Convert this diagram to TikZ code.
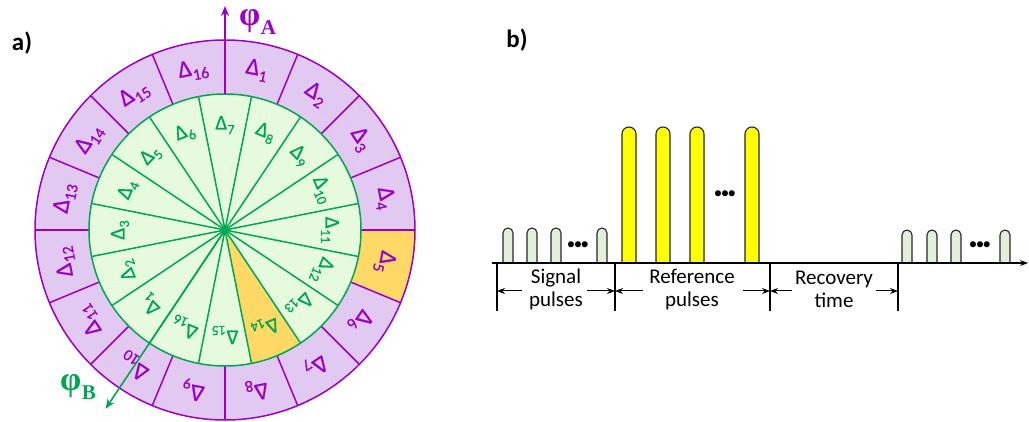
\documentclass[tikz,border=0pt]{standalone}
\usepackage{fontspec}
\setmainfont{Carlito}
\newfontfamily\phifont{Liberation Serif}
\newfontfamily\labfont[FakeBold=0.8]{Carlito}
\usetikzlibrary{arrows.meta}

\definecolor{ringpurple}{HTML}{9B00C8}
\definecolor{ringfill}{HTML}{E2C9F1}
\definecolor{diskgreen}{HTML}{00A651}
\definecolor{diskfill}{HTML}{E6FBDE}
\definecolor{hilite}{HTML}{FFD966}
\definecolor{sigfill}{HTML}{E2EFDA}
\definecolor{reffill}{HTML}{FFFF00}

% Delta with a lowered index
\newcommand\dlab[2]{Δ\kern0.3pt\raisebox{-0.45ex}{\fontsize{#2}{#2}\selectfont #1}}
% phase symbol with a bold index
\newcommand\phasesym[1]{\phifont\fontsize{34}{34}\selectfont\bfseries φ\kern0.5pt\raisebox{-0.55ex}{\fontsize{21}{21}\selectfont\bfseries #1}}

\tikzset{
  ringline/.style={draw=ringpurple, line width=1.5pt},
  diskline/.style={draw=diskgreen, line width=1.5pt},
  outlab/.style={text=ringpurple, font=\labfont\fontsize{24}{24}\selectfont, inner sep=0pt},
  inlab/.style={text=diskgreen, font=\labfont\fontsize{21}{21}\selectfont, inner sep=0pt},
  pulseline/.style={draw=black!85, line width=1.1pt},
  dimline/.style={line width=1pt, -{Stealth[length=8pt,width=6pt]}},
  span/.style={font=\fontsize{21}{23}\selectfont, align=center, inner sep=0pt},
  panel/.style={font=\fontsize{25}{25}\selectfont\bfseries, inner sep=0pt},
  dots/.style={font=\fontsize{17}{17}\selectfont, inner sep=0pt},
}

\begin{document}
\begin{tikzpicture}[x=1pt,y=1pt]
\useasboundingbox (0,0) rectangle (1029,421);

\node[panel] (pa) at (22,378) {a)};
\node[panel] (pb) at (517,381) {b)};

% ---------------- phase wheel ----------------
\begin{scope}[shift={(225,191)}]
  % outer ring
  \fill[ringfill] (0,0) circle (190);
  \fill[hilite] (0:136) -- (0:190) arc[start angle=0,end angle=-22.5,radius=190]
        -- (-22.5:136) -- cycle;
  \foreach \k in {0,...,15}
    \draw[ringline] (90-22.5*\k:136) -- (90-22.5*\k:190);
  \draw[ringline] (0,0) circle (190);
  % inner disk
  \fill[diskfill] (0,0) circle (136);
  \fill[hilite] (0,0) -- (-56.25:136) arc[start angle=-56.25,end angle=-78.75,radius=136] -- cycle;
  \foreach \k in {0,...,15}
    \draw[diskline] (0,0) -- (101.25-22.5*\k:136);
  \draw[diskline] (0,0) circle (136);

  % sector labels
  \foreach \k [evaluate=\k as \a using 78.75-22.5*(\k-1),
               evaluate=\k as \r using 78.75-22.5*(\k-1)-90] in {1,...,16}
    \node[outlab, rotate=\r] (o\k) at (\a:163) {\dlab{\k}{16}};
  \foreach \k [evaluate=\k as \a using 90-22.5*(\k-7),
               evaluate=\k as \r using -22.5*(\k-7)] in {1,...,16}
    \node[inlab, rotate=\r] (i\k) at (\a:105) {\dlab{\k}{14}};

  % phase axes
  \coordinate (ca) at (90:136);
  \coordinate (ta) at (90:224);
  \draw[ringpurple, line width=1.6pt, -{Stealth[length=10pt,width=8pt]}] (ca) -- (ta);
  \node[text=ringpurple, inner sep=0pt, anchor=west] (la) at (14,208) {\phasesym{A}};
  \coordinate (cb) at (0,0);
  \coordinate (tb) at (236.25:215);
  \draw[diskgreen, line width=1.6pt, -{Stealth[length=10pt,width=8pt]}] (cb) -- (tb);
  \node[text=diskgreen, inner sep=0pt] (lb) at (-147,-157) {\phasesym{B}};
\end{scope}

% ---------------- pulse train ----------------
% signal pulses
\foreach \x in {508,532,556,602}
  \draw[pulseline, fill=sigfill] (\x-5,158) -- (\x-5,188) arc[start angle=180,end angle=0,radius=5] -- (\x+5,158);
\foreach \x in {907,932,956,1005}
  \draw[pulseline, fill=sigfill] (\x-5,158) -- (\x-5,186) arc[start angle=180,end angle=0,radius=5] -- (\x+5,158);
% reference pulses
\foreach \x in {629,663,697,752}
  \draw[pulseline, fill=reffill] (\x-7,158) -- (\x-7,287) arc[start angle=180,end angle=0,radius=7] -- (\x+7,158);

\node[dots] (d1) at (578,175) {•\kern-1.5pt•\kern-1.5pt•};
\node[dots] (d2) at (725,226) {•\kern-1.5pt•\kern-1.5pt•};
\node[dots] (d3) at (980,175) {•\kern-1.5pt•\kern-1.5pt•};

% time axis
\coordinate (t0) at (492,158);
\coordinate (t1) at (1028,158);
\draw[line width=1.1pt, -{Stealth[length=8pt,width=6pt]}] (t0) -- (t1);

% interval boundaries
\foreach \n/\x in {m1/497,m2/615,m3/770,m4/898} {
  \coordinate (\n) at (\x,158);
  \coordinate (\n b) at (\x,110);
  \draw[line width=1.1pt] (\n) -- (\n b);
}

% interval labels with arrows
\node[span] (s1) at (556,132) {Signal\\pulses};
\node[span] (s2) at (692,132) {Reference\\pulses};
\node[span] (s3) at (834,132) {Recovery\\time};

\coordinate (a1) at (497,130); \coordinate (a2) at (615,130);
\coordinate (a3) at (770,130); \coordinate (a4) at (898,130);
\draw[dimline] (522,130) -- (a1);
\draw[dimline] (587,130) -- (a2);
\draw[dimline] (643,130) -- (a2);
\draw[dimline] (743,130) -- (a3);
\draw[dimline] (792,130) -- (a3);
\draw[dimline] (876,130) -- (a4);
\end{tikzpicture}
\end{document}
